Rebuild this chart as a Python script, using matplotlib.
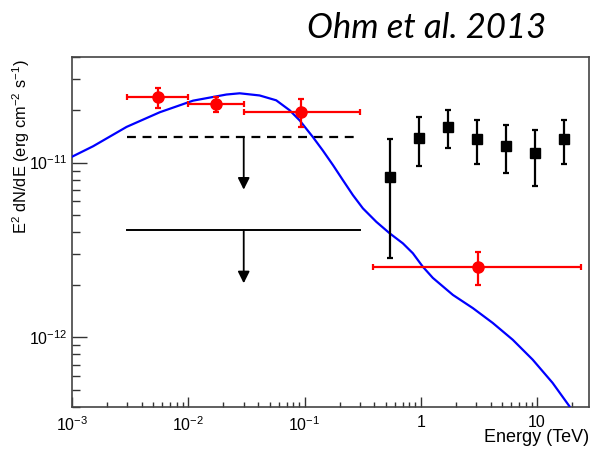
import numpy as np
import matplotlib
matplotlib.use('Agg')
import matplotlib.pyplot as plt

plt.rcParams['font.family'] = ['Liberation Sans', 'DejaVu Sans']
plt.rcParams['mathtext.fontset'] = 'custom'
plt.rcParams['mathtext.rm'] = 'Liberation Sans'
plt.rcParams['mathtext.it'] = 'Liberation Sans:italic'

# Fermi-LAT points (red): energy [TeV], flux, errors
fermi_e = [5.45e-3, 1.72e-2, 9.4e-2, 3.08]
fermi_e_lo = [3.0e-3, 1.0e-2, 3.0e-2, 0.386]
fermi_e_hi = [1.0e-2, 3.0e-2, 0.30, 24.0]
fermi_f = [2.36e-11, 2.17e-11, 1.95e-11, 2.54e-12]
fermi_f_lo = [2.05e-11, 1.94e-11, 1.60e-11, 1.99e-12]
fermi_f_hi = [2.66e-11, 2.37e-11, 2.31e-11, 3.09e-12]

# H.E.S.S. points (black squares)
hess_e = [0.547, 0.97, 1.72, 3.03, 5.38, 9.55, 17.1]
hess_f = [8.28e-12, 1.38e-11, 1.60e-11, 1.37e-11, 1.24e-11, 1.13e-11, 1.37e-11]
hess_f_lo = [2.86e-12, 9.5e-12, 1.21e-11, 9.87e-12, 8.69e-12, 7.36e-12, 9.87e-12]
hess_f_hi = [1.36e-11, 1.82e-11, 1.99e-11, 1.76e-11, 1.63e-11, 1.53e-11, 1.76e-11]

# upper limits: [x_lo, x_hi], level, arrow position, arrow tip
ul_x_range = [3.0e-3, 0.30]
ul_dashed = 1.40e-11
ul_solid = 4.09e-12
ul_arrow_x = 3.0e-2
ul_dashed_tip = 7.0e-12
ul_solid_tip = 2.04e-12

# model curve (blue)
model_e = [1.0e-3, 1.52e-3, 2.95e-3, 5.69e-3, 1.10e-2, 2.13e-2, 2.77e-2, 4.11e-2,
           5.71e-2, 7.46e-2, 9.10e-2, 0.118, 0.144, 0.176, 0.214, 0.261, 0.318,
           0.415, 0.540, 0.702, 0.855, 1.04, 1.27, 1.89, 2.81, 4.16, 6.18,
           9.18, 13.6, 19.0]
model_f = [1.08e-11, 1.24e-11, 1.60e-11, 1.94e-11, 2.26e-11, 2.45e-11, 2.49e-11, 2.42e-11,
           2.27e-11, 1.99e-11, 1.74e-11, 1.40e-11, 1.17e-11, 9.66e-12, 7.93e-12, 6.51e-12, 5.47e-12,
           4.58e-12, 3.94e-12, 3.45e-12, 3.03e-12, 2.54e-12, 2.19e-12, 1.75e-12, 1.47e-12, 1.21e-12, 9.70e-13,
           7.46e-13, 5.50e-13, 4.04e-13]

fig = plt.figure(figsize=(5.9, 4.49), dpi=100)
ax = fig.add_axes([72/590, 1-407/449, 517/590, (407-57.3)/449])

ax.set_xscale('log')
ax.set_yscale('log')
ax.set_xlim(1e-3, 28)
ax.set_ylim(4e-13, 4e-11)

ax.plot(model_e, model_f, color='#0000ff', lw=1.6, zorder=3, solid_joinstyle='round')

fe = np.array(fermi_e)
ff = np.array(fermi_f)
ax.errorbar(fe, ff,
            xerr=[fe - np.array(fermi_e_lo), np.array(fermi_e_hi) - fe],
            yerr=[ff - np.array(fermi_f_lo), np.array(fermi_f_hi) - ff],
            fmt='o', color='#ff0000', ms=8, lw=1.6, capsize=2.2, capthick=1.6, zorder=4)

he = np.array(hess_e)
hf = np.array(hess_f)
ax.errorbar(he, hf,
            yerr=[hf - np.array(hess_f_lo), np.array(hess_f_hi) - hf],
            fmt='s', color='black', ms=7, lw=1.6, capsize=2.2, capthick=1.6, zorder=4)

ax.plot(ul_x_range, [ul_dashed, ul_dashed], color='black', lw=1.6, ls=(0, (4, 3)))
ax.plot(ul_x_range, [ul_solid, ul_solid], color='black', lw=1.4)
for y0, y1 in [(ul_dashed, ul_dashed_tip), (ul_solid, ul_solid_tip)]:
    ax.annotate('', xy=(ul_arrow_x, y1), xytext=(ul_arrow_x, y0),
                arrowprops=dict(arrowstyle='-|>,head_length=0.7,head_width=0.35',
                                color='black', lw=1.3, shrinkA=0, shrinkB=0))

ax.set_xticks([1e-3, 1e-2, 1e-1, 1, 10])
ax.set_xticklabels([r'$10^{-3}$', r'$10^{-2}$', r'$10^{-1}$', '1', '10'])
ax.set_yticks([1e-12, 1e-11])
ax.set_yticklabels([r'$10^{-12}$', r'$10^{-11}$'])

ax.tick_params(which='both', direction='in', top=False, right=False, colors='#333333',
               labelcolor='black', labelsize=11.5)
ax.tick_params(axis='x', which='major', length=7, width=1, pad=6)
ax.tick_params(axis='x', which='minor', length=3.5, width=1)
ax.tick_params(axis='y', which='major', length=11, width=1, pad=3)
ax.tick_params(axis='y', which='minor', length=6, width=1)
ax.yaxis.set_minor_formatter(matplotlib.ticker.NullFormatter())
ax.xaxis.set_minor_formatter(matplotlib.ticker.NullFormatter())

for sp in ax.spines.values():
    sp.set_color('#444444')
    sp.set_linewidth(1.2)

fig.text(21/590, 1-147/449, r'E$^{2}$ dN/dE (erg cm$^{-2}$ s$^{-1}$)', rotation=90,
         ha='center', va='center', fontsize=11.8)
fig.text(589/590, 1-438/449, 'Energy (TeV)', ha='right', va='center', fontsize=13)

fig.text(546/590, 1-28/449, 'Ohm et al. 2013', ha='right', va='center', fontsize=25,
         style='italic', family=['Lato', 'DejaVu Sans'])

fig.savefig('out.png', dpi=100)
